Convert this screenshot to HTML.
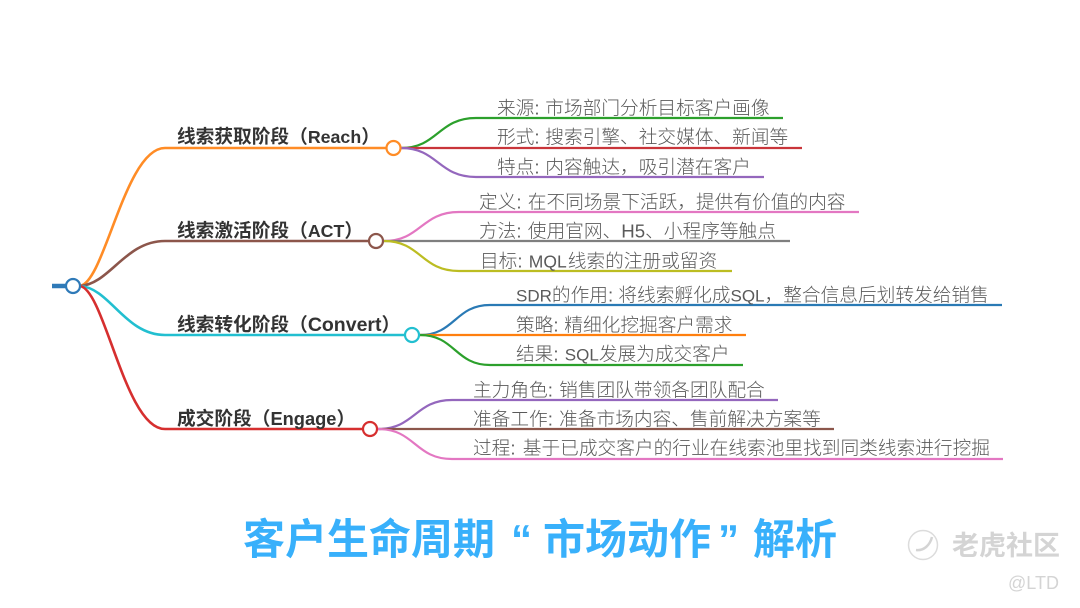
<!DOCTYPE html>
<html><head><meta charset="utf-8"><style>
html,body{margin:0;padding:0;background:#fff}
svg{display:block}
text{font-family:"Liberation Sans","Noto Sans CJK SC",sans-serif}
.c{font-size:18.7px;fill:#5a5a5a;font-weight:300}
.c .l{font-size:17px}
.b{font-size:18.7px;fill:#333;font-weight:700}
.t{font-size:42px;font-weight:700;fill:#38b0fb}
path{fill:none}
</style></head><body>
<svg width="1080" height="608" viewBox="0 0 1080 608" xmlns="http://www.w3.org/2000/svg">
<rect width="1080" height="608" fill="#fff"/>
<path d="M52 286H66" stroke="#2f7ab8" stroke-width="4.500"/>
<g stroke-width="2.600">
<path d="M80 286C105 282 125 148 165 148H386" stroke="#ff8c26"/>
<path d="M80 286C110 284 125 241 165 241H369" stroke="#8c564b"/>
<path d="M80 286C110 288 125 335 165 335H405" stroke="#22bfd0"/>
<path d="M80 286C105 290 125 429 165 429H363" stroke="#d62f2f"/>
</g>
<g stroke-width="2.200">
<path d="M401 148C438 148 438 118 476 118H783" stroke="#2ca02c"/>
<path d="M401 148H802" stroke="#c9353a"/>
<path d="M401 148C438 148 438 177 476 177H764" stroke="#9467bd"/>
<path d="M384 241C421 241 421 212 459 212H859" stroke="#e377c2"/>
<path d="M384 241H790" stroke="#7f7f7f"/>
<path d="M384 241C421 241 421 271 459 271H732" stroke="#bcbd22"/>
<path d="M420 335C455 335 455 305 490 305H1002" stroke="#2a7ab5"/>
<path d="M420 335H746" stroke="#ff7f0e"/>
<path d="M420 335C455 335 455 365 490 365H743" stroke="#2ca02c"/>
<path d="M378 429C415 429 415 400 452 400H778" stroke="#9467bd"/>
<path d="M378 429H834" stroke="#8c564b"/>
<path d="M378 429C415 429 415 459 452 459H1003" stroke="#e377c2"/>
</g>
<g fill="#fff" stroke-width="2.200">
<circle cx="73" cy="286" r="7" stroke="#2f7ab8"/>
<circle cx="393.500" cy="148" r="7" stroke="#ff8c26"/>
<circle cx="376" cy="241" r="7" stroke="#8c564b"/>
<circle cx="412" cy="335" r="7" stroke="#22bfd0"/>
<circle cx="370" cy="429" r="7" stroke="#d62f2f"/>
</g>
<text class="b" x="177" y="143">线索获取阶段（<tspan style="font-size:17.800px">Reach</tspan>）</text>
<text class="b" x="177" y="237">线索激活阶段（<tspan style="font-size:17.800px">ACT</tspan>）</text>
<text class="b" x="177" y="331">线索转化阶段（<tspan style="font-size:19.500px">Convert</tspan>）</text>
<text class="b" x="177" y="425">成交阶段（<tspan style="font-size:18.300px">Engage</tspan>）</text>
<text class="c" x="497" y="114.500">来源:<tspan dx="0.500"> </tspan>市场部门分析目标客户画像</text>
<text class="c" x="497" y="143.500">形式:<tspan dx="0.500"> </tspan>搜索引擎、社交媒体、新闻等</text>
<text class="c" x="497" y="173.500">特点:<tspan dx="0.500"> </tspan>内容触达，吸引潜在客户</text>
<text class="c" x="479" y="208.500">定义:<tspan dx="1"> </tspan>在不同场景下活跃，提供有价值的内容</text>
<text class="c" x="479" y="237.500">方法:<tspan dx="1"> </tspan>使用官网、H5、小程序等触点</text>
<text class="c" x="480" y="267.500">目标:<tspan dx="1"> </tspan><tspan class="l" style="font-size:17.500px">MQL</tspan><tspan dx="1">线索的注册或留资</tspan></text>
<text class="c" x="516" y="301.500"><tspan class="l">SDR</tspan>的作用: 将线索孵化成<tspan class="l">SQL</tspan>，整合信息后划转发给销售</text>
<text class="c" x="516" y="331.500">策略:<tspan dx="0.500"> </tspan>精细化挖掘客户需求</text>
<text class="c" x="516" y="360.500">结果:<tspan dx="1"> </tspan><tspan class="l">SQL</tspan>发展为成交客户</text>
<text class="c" x="473" y="396.500">主力角色:<tspan dx="1"> </tspan>销售团队带领各团队配合</text>
<text class="c" x="473" y="425.500">准备工作:<tspan dx="1"> </tspan>准备市场内容、售前解决方案等</text>
<text class="c" x="473" y="454.500">过程:<tspan dx="2"> </tspan>基于已成交客户的行业在线索池里找到同类线索进行挖掘</text>
<text class="t" x="243" y="554">客户生命周期</text>
<text class="t" x="511" y="554">“</text>
<text class="t" x="543" y="554">市场动作</text>
<text class="t" x="718" y="554">”</text>
<text class="t" x="753" y="554">解析</text>
<circle cx="923" cy="545" r="14.500" fill="none" stroke="#dcdcdc" stroke-width="1.500"/>
<path d="M916 550C924 551 930 545 932 537" stroke="#d4d4d4" stroke-width="2.500"/>
<text x="952" y="555" font-size="27" fill="#d4d4d4" font-weight="700">老虎社区</text>
<text x="1008" y="589" font-size="18" fill="#d4d4d4">@LTD</text>
</svg>
</body></html>
